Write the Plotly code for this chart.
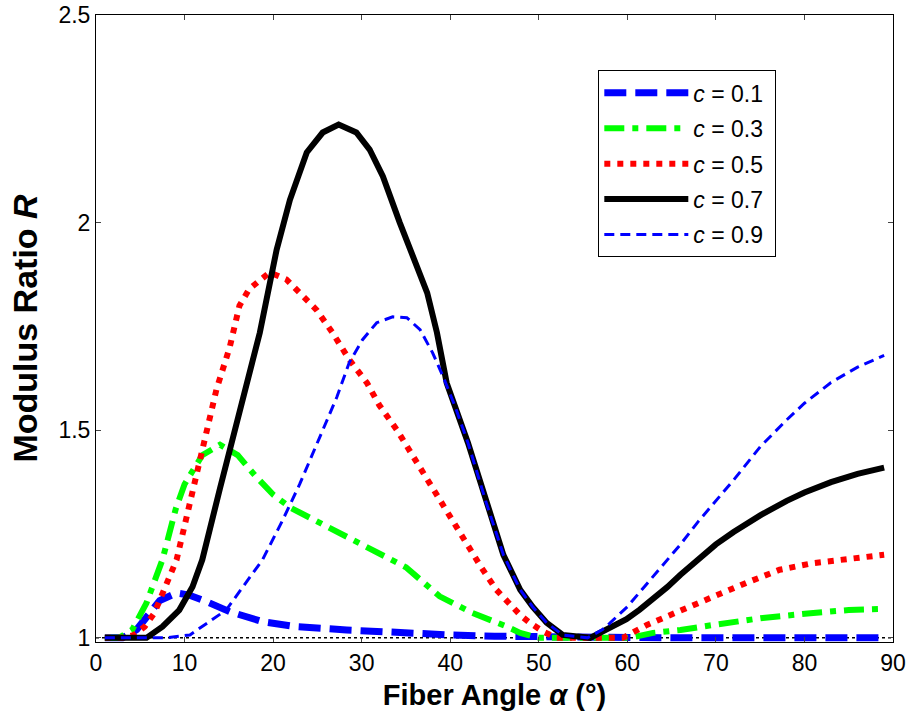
import plotly.graph_objects as go

# ---- data ----
labels = ["0.1", "0.3", "0.5", "0.7", "0.9"]

x_c01 = [1, 3, 4.6, 5.7, 7.2, 9.1, 10.5, 12.5, 15.1, 18.8, 22.6, 28.3, 31.3, 36, 40, 45, 50, 55, 60, 65, 70, 75, 80, 85, 89]
y_c01 = [1.0, 1.0, 1.02, 1.048, 1.09, 1.108, 1.103, 1.087, 1.063, 1.039, 1.027, 1.019, 1.015, 1.01, 1.007, 1.004, 1.002, 1.0, 1.0, 1.0, 1.0, 1.0, 1.0, 1.0, 1.0]

x_c03 = [1, 2.6, 4.1, 5.7, 7.5, 9, 10, 12, 14, 16, 18, 20, 22, 25, 30, 35, 38.8, 42.5, 46.4, 47.9, 50, 55, 60.3, 62.9, 66, 69.7, 75.3, 81, 85, 89]
y_c03 = [1.0, 1.0, 1.02, 1.084, 1.188, 1.31, 1.37, 1.44, 1.465, 1.44, 1.39, 1.345, 1.313, 1.28, 1.229, 1.17, 1.10, 1.06, 1.027, 1.012, 1.0, 1.0, 1.0, 1.012, 1.019, 1.031, 1.048, 1.06, 1.067, 1.07]

x_c05 = [1, 3, 4.3, 5.5, 6.6, 8.6, 9.1, 10, 11, 12, 13.6, 15.1, 16.2, 17.3, 18.5, 19.6, 21.5, 22.6, 23.8, 24.9, 26.7, 28.6, 30.6, 32, 34, 36, 38, 40, 42, 43.5, 45.2, 46.7, 47.9, 49, 50.5, 52, 55, 59.5, 62.2, 66, 69.7, 73.5, 77.2, 81, 85, 89]
y_c05 = [1.0, 1.0, 1.007, 1.027, 1.06, 1.157, 1.188, 1.27, 1.36, 1.45, 1.598, 1.70, 1.80, 1.84, 1.863, 1.88, 1.863, 1.84, 1.81, 1.79, 1.735, 1.67, 1.614, 1.56, 1.50, 1.43, 1.36, 1.29, 1.22, 1.17, 1.116, 1.08, 1.055, 1.036, 1.015, 1.0, 1.0, 1.0, 1.031, 1.067, 1.099, 1.133, 1.164, 1.18, 1.19, 1.2]

x_c07 = [1, 3, 5.7, 7.5, 9.4, 10.9, 12.0, 14, 16.55, 18.5, 20.4, 21.9, 23.8, 25.6, 27.4, 29.4, 30.9, 32.4, 34.3, 35.8, 37.4, 38.5, 39.6, 42, 44, 46, 47.9, 49.3, 50.9, 52.7, 55.8, 57.7, 59.9, 61.4, 63, 64.5, 66, 68, 70, 72, 75, 78, 80, 83, 86, 89]
y_c07 = [1.0, 1.0, 1.0, 1.027, 1.067, 1.123, 1.188, 1.36, 1.573, 1.735, 1.935, 2.055, 2.169, 2.217, 2.236, 2.217, 2.176, 2.111, 2.0, 1.918, 1.831, 1.735, 1.614, 1.47, 1.33, 1.20, 1.116, 1.075, 1.036, 1.007, 1.0, 1.02, 1.045, 1.068, 1.095, 1.122, 1.152, 1.19, 1.225, 1.255, 1.295, 1.33, 1.35, 1.375, 1.395, 1.41]

x_c09 = [1, 5, 8, 10.6, 14.7, 18.8, 21, 23, 25, 27.2, 28.6, 30.1, 31.7, 33.5, 35.1, 36.6, 38.0, 39.2, 40.5, 42, 44, 46, 47.9, 49.3, 50.9, 52.7, 55.5, 57.2, 58, 60, 62, 64, 66, 68, 70, 72, 75, 78, 80, 83, 86, 89]
y_c09 = [1.0, 1.0, 1.0, 1.007, 1.067, 1.188, 1.28, 1.37, 1.47, 1.58, 1.663, 1.718, 1.759, 1.773, 1.771, 1.742, 1.687, 1.629, 1.56, 1.47, 1.33, 1.20, 1.116, 1.075, 1.036, 1.007, 1.0, 1.02, 1.035, 1.075, 1.125, 1.175, 1.225, 1.28, 1.33, 1.38, 1.46, 1.525, 1.565, 1.615, 1.652, 1.68]

ref_x = [0, 90]
ref_y = [1, 1]

x_ticks = [0, 10, 20, 30, 40, 50, 60, 70, 80, 90]
y_ticks = [1, 1.5, 2, 2.5]
y_tick_text = ["1", "1.5", "2", "2.5"]

series = [
    (x_c01, y_c01, "#0000ff", 7, "22px,9px"),
    (x_c03, y_c03, "#00ff00", 6, "20px,8px,6px,8px"),
    (x_c05, y_c05, "#ff0000", 6, "6px,7px"),
    (x_c07, y_c07, "#000000", 6, "solid"),
    (x_c09, y_c09, "#0000ff", 3, "10px,6px"),
]

fig = go.Figure()

fig.add_trace(go.Scatter(x=ref_x, y=ref_y, mode="lines", showlegend=False,
                         line=dict(color="black", width=1.5, dash="dot"), hoverinfo="skip"))

for lab, (xs, ys, col, w, dash) in zip(labels, series):
    fig.add_trace(go.Scatter(
        x=xs, y=ys, mode="lines", name="<i>c</i> = " + lab + " ", legendgroup=lab,
        line=dict(color=col, width=w, dash=dash),
    ))

font_family = "Liberation Sans, Arial, sans-serif"

fig.update_layout(
    width=909, height=716,
    margin=dict(l=96, r=16, t=15, b=74, autoexpand=False),
    paper_bgcolor="white", plot_bgcolor="white",
    font=dict(family=font_family, color="black", size=23),
    showlegend=True,
    legend=dict(
        x=0.630, y=0.912, xanchor="left", yanchor="top",
        bordercolor="black", borderwidth=1.2, bgcolor="white",
        font=dict(size=23, family=font_family), itemwidth=84,
        tracegroupgap=2.5, traceorder="grouped",
    ),
    xaxis=dict(
        range=[0, 90], tickvals=x_ticks, ticks="inside", ticklen=5, automargin=False,
        showline=True, linecolor="black", linewidth=1, mirror="ticks",
        showgrid=False, zeroline=False, tickfont=dict(size=23),
        title=dict(text="<b>Fiber Angle <i>α</i> (°)</b>", font=dict(size=29), standoff=10),
    ),
    yaxis=dict(
        range=[0.99, 2.5], tickvals=y_ticks, ticktext=y_tick_text, ticks="inside", ticklen=5,
        automargin=False,
        showline=True, linecolor="black", linewidth=1, mirror="ticks",
        showgrid=False, zeroline=False, tickfont=dict(size=23),
        title=dict(text="<b>Modulus Ratio <i>R</i></b>", font=dict(size=34), standoff=10),
    ),
)

fig.write_html("out.html")
